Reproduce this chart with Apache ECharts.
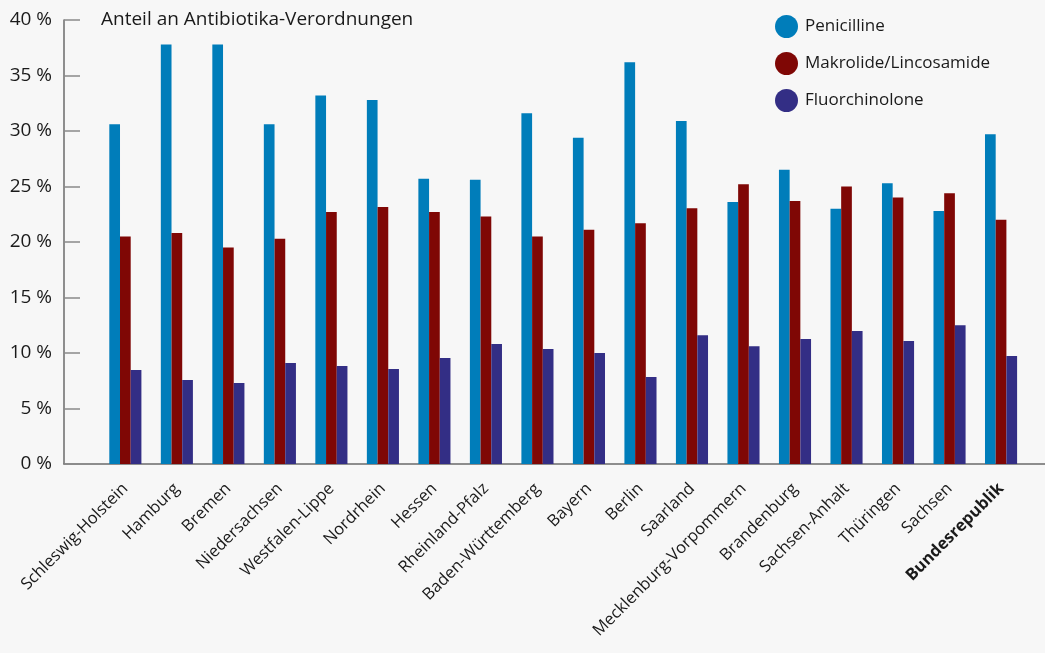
<!DOCTYPE html>
<html>
<head>
<meta charset="utf-8">
<script src="https://cdn.jsdelivr.net/npm/echarts@6/dist/echarts.min.js"></script>
<style>
html,body{margin:0;padding:0;background:#f7f7f7;}
#c{width:1045px;height:653px;}
</style>
</head>
<body>
<div id="c"></div>
<script>
const categories = ["Schleswig-Holstein","Hamburg","Bremen","Niedersachsen","Westfalen-Lippe","Nordrhein","Hessen","Rheinland-Pfalz","Baden-Württemberg","Bayern","Berlin","Saarland","Mecklenburg-Vorpommern","Brandenburg","Sachsen-Anhalt","Thüringen","Sachsen","Bundesrepublik"];
const penicilline = [30.6,37.8,37.8,30.6,33.2,32.8,25.7,25.6,31.6,29.4,36.2,30.9,23.6,26.5,23.0,25.3,22.8,29.7];
const makrolide = [20.5,20.8,19.5,20.3,22.7,23.15,22.7,22.3,20.5,21.1,21.7,23.05,25.2,23.7,25.0,24.0,24.4,22.0];
const fluorchinolone = [8.47,7.57,7.3,9.1,8.83,8.56,9.55,10.8,10.36,10.0,7.84,11.6,10.6,11.26,11.98,11.08,12.5,9.73];
const yTicks = {min:0, max:40, interval:5};
const seriesNames = ["Penicilline","Makrolide/Lincosamide","Fluorchinolone"];
const colors = ["#007dba","#7f0705","#332e85"];
const titleText = "Anteil an Antibiotika-Verordnungen";

const FONT = "Open Sans";
const chart = echarts.init(document.getElementById('c'), null, {renderer:'canvas'});
const barW = 10.7;
chart.setOption({
  backgroundColor:'#f7f7f7',
  animation:false,
  textStyle:{fontFamily:FONT,color:'#1a1a1a'},
  title:{text:titleText,left:96,top:5,textStyle:{fontFamily:FONT,fontSize:19,fontWeight:'normal',color:'#1a1a1a'}},
  legend:{
    orient:'vertical',left:770,top:10,icon:'circle',itemWidth:23,itemHeight:23,itemGap:14,
    textStyle:{fontFamily:FONT,fontSize:17,color:'#1a1a1a',padding:[0,0,0,2]},
    data:seriesNames
  },
  grid:[
    {left:64,right:0,top:20,bottom:189},
    {left:99.6,right:18.2,top:20,bottom:189}
  ],
  xAxis:[
    {type:'value',gridIndex:0,min:0,max:1,axisLabel:{show:false},splitLine:{show:false},axisTick:{show:false},
     axisLine:{show:true,lineStyle:{color:'#6b6b6b',width:1.5}}},
    {type:'category',gridIndex:1,data:categories,axisLine:{show:false},axisTick:{show:false},
     axisLabel:{rotate:45,margin:22,fontFamily:FONT,fontSize:16.5,color:'#1a1a1a',interval:0,
       formatter:(v)=> v==='Bundesrepublik' ? '{b|'+v+'}' : v,
       rich:{b:{fontWeight:'bold',fontFamily:FONT,fontSize:16.5,color:'#1a1a1a'}}}}
  ],
  yAxis:[
    {type:'value',gridIndex:0,min:yTicks.min,max:yTicks.max,interval:yTicks.interval,
     axisLine:{show:true,lineStyle:{color:'#6b6b6b',width:1.5}},
     axisTick:{show:true,inside:true,length:16,lineStyle:{color:'#8a8a8a',width:1.5}},
     splitLine:{show:false},
     axisLabel:{formatter:'{value} %',margin:12,fontFamily:FONT,fontSize:19,color:'#1a1a1a'}},
    {type:'value',gridIndex:1,min:yTicks.min,max:yTicks.max,show:false}
  ],
  series:[
    {name:seriesNames[0],type:'bar',xAxisIndex:1,yAxisIndex:1,data:penicilline,barWidth:barW,barGap:'0%',itemStyle:{color:colors[0]}},
    {name:seriesNames[1],type:'bar',xAxisIndex:1,yAxisIndex:1,data:makrolide,barWidth:barW,barGap:'0%',itemStyle:{color:colors[1]}},
    {name:seriesNames[2],type:'bar',xAxisIndex:1,yAxisIndex:1,data:fluorchinolone,barWidth:barW,barGap:'0%',itemStyle:{color:colors[2]}}
  ]
});
</script>
</body>
</html>
